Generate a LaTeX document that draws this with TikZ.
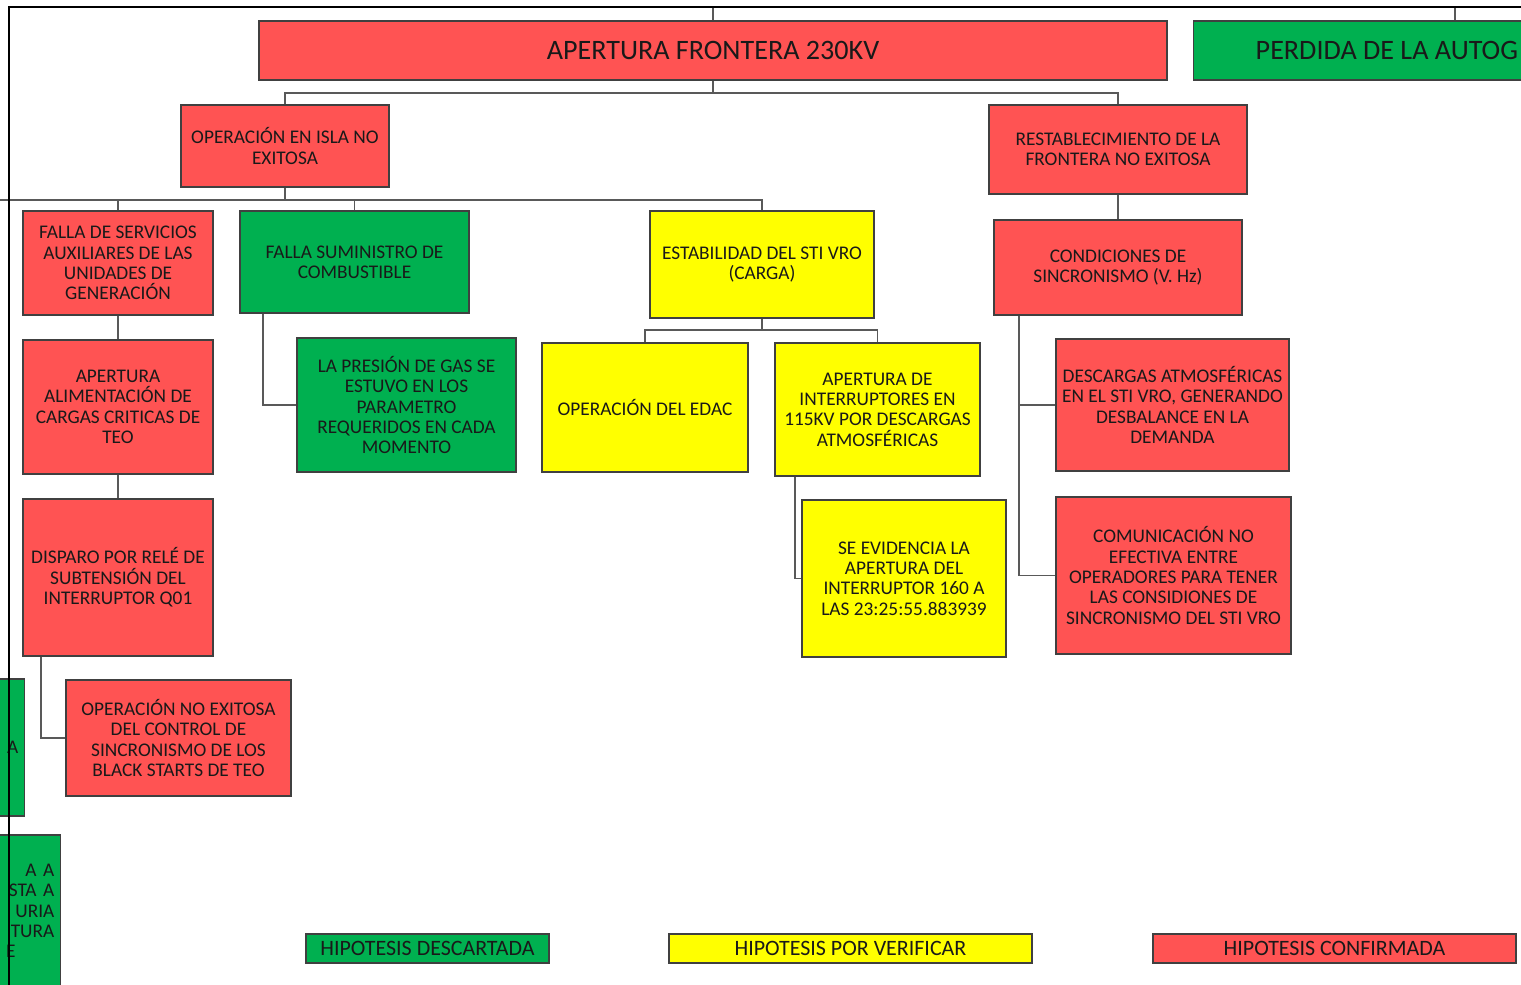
\documentclass[tikz,border=0pt]{standalone}
\usepackage{fontspec}
\setmainfont{Carlito}
\usepackage{tikz}
\usetikzlibrary{positioning}

\definecolor{hred}{RGB}{255,83,83}
\definecolor{hgreen}{RGB}{0,176,80}
\definecolor{hyellow}{RGB}{255,255,0}

\begin{document}
\begin{tikzpicture}[x=0.02cm, y=-0.02cm,
    hyp/.style={draw=black!75, line width=0.8pt, align=center, inner sep=1pt,
      text=black!90, font=\fontsize{11}{11.6}\selectfont},
    sz/.style 2 args={minimum width=#1*0.02cm, minimum height=#2*0.02cm},
    conf/.style={hyp, fill=hred},
    desc/.style={hyp, fill=hgreen},
    verif/.style={hyp, fill=hyellow},
    link/.style={draw=black!65, line width=1pt}]

    % Page (cropped screenshot)
    \useasboundingbox (0,0) rectangle (1521,984);
    \clip (0,0) rectangle (1521,984);
    \fill[white] (0,0) rectangle (1521,984);
    \coordinate (topedge) at (0,7);

    % Top level
    \node[conf, sz={908}{59}, font=\fontsize{16}{18}\selectfont] (top) at (713,50.5) {APERTURA FRONTERA 230KV};
    \node[desc, anchor=west, inner xsep=62*0.02cm, minimum height=59*0.02cm,
      font=\fontsize{16}{18}\selectfont] (autog) at (1193,50.5) {PERDIDA DE LA AUTOG};

    % Second level
    \node[conf, sz={208}{82}] (isla) at (285,146) {OPERACIÓN EN ISLA NO\\EXITOSA};
    \node[conf, sz={258}{89}] (restab) at (1118,149.5) {RESTABLECIMIENTO DE LA\\FRONTERA NO EXITOSA};

    % Third level
    \node[conf, sz={190}{104}] (fallaserv) at (118,263) {FALLA DE SERVICIOS\\AUXILIARES DE LAS\\UNIDADES DE\\GENERACIÓN};
    \node[desc, sz={229}{102}] (fallacomb) at (354.5,262) {FALLA SUMINISTRO DE\\COMBUSTIBLE};
    \node[verif, sz={224}{107}] (estab) at (762,264.5) {ESTABILIDAD DEL STI VRO\\(CARGA)};
    \node[conf, sz={248}{95}] (condic) at (1118,267.5) {CONDICIONES DE\\SINCRONISMO (V. Hz)};

    % Fourth level
    \node[conf, sz={190}{134}] (alim) at (118,407) {APERTURA\\ALIMENTACIÓN DE\\CARGAS CRITICAS DE\\TEO};
    \node[desc, sz={219}{134}] (gas) at (406.5,405) {LA PRESIÓN DE GAS SE\\ESTUVO EN LOS\\PARAMETRO\\REQUERIDOS EN CADA\\MOMENTO};
    \node[verif, sz={206}{129}] (edac) at (645,407.5) {OPERACIÓN DEL EDAC};
    \node[verif, sz={205}{133}] (interr) at (877.5,409.5) {APERTURA DE\\INTERRUPTORES EN\\115KV POR DESCARGAS\\ATMOSFÉRICAS};
    \node[conf, sz={233}{132}] (descargas) at (1172.5,405) {DESCARGAS ATMOSFÉRICAS\\EN EL STI VRO, GENERANDO\\DESBALANCE EN LA\\DEMANDA};

    % Fifth level
    \node[conf, sz={190}{157}] (disparo) at (118,577.5) {DISPARO POR RELÉ DE\\SUBTENSIÓN DEL\\INTERRUPTOR Q01};
    \node[verif, sz={204}{157}] (evid) at (904,578.5) {SE EVIDENCIA LA\\APERTURA DEL\\INTERRUPTOR 160 A\\LAS 23:25:55.883939};
    \node[conf, sz={235}{157}] (comunic) at (1173.5,575.5) {COMUNICACIÓN NO\\EFECTIVA ENTRE\\OPERADORES PARA TENER\\LAS CONSIDIONES DE\\SINCRONISMO DEL STI VRO};
    \node[conf, sz={225}{116}] (blackstart) at (178.5,738) {OPERACIÓN NO EXITOSA\\DEL CONTROL DE\\SINCRONISMO DE LOS\\BLACK STARTS DE TEO};

    % Boxes cut by the left edge
    \node[desc, anchor=east, text width=163*0.02cm, inner xsep=6*0.02cm, minimum height=137*0.02cm,
      align=right] (partA) at (25,747.5) {A};
    \node[desc, anchor=east, text width=199*0.02cm, inner xsep=6*0.02cm, minimum height=152*0.02cm,
      align=right] (partB) at (61,911) {A A\\STA A\\URIA\\TURA\\E\hspace*{22pt}};

    % Connectors
    \coordinate (bus1) at (713,93);
    \coordinate (bus2) at (285,200);
    \coordinate (bus3) at (762,330);
    \coordinate (offleft) at (-20,200);
    \draw[link] (top.north) -- (top.north |- topedge);
    \draw[link] (autog.north west) ++(262,0) -- ++(0,-14);
    \draw[link] (top.south) -- (bus1);
    \draw[link] (bus1) -| (isla.north);
    \draw[link] (bus1) -| (restab.north);
    \draw[link] (isla.south) -- (bus2);
    \draw[link] (offleft) -- (bus2) -| (estab.north);
    \foreach \n in {fallaserv,fallacomb}
      \draw[link] (\n.north) -- (\n.north |- bus2);
    \draw[link] (fallaserv) -- (alim);
    \draw[link] (alim) -- (disparo);
    \draw[link] (disparo.south west) ++(19,0) |- (blackstart.west);
    \draw[link] (fallacomb.south west) ++(24,0) |- (gas.west);
    \draw[link] (estab.south) -- (bus3);
    \draw[link] (edac.north) |- (bus3);
    \draw[link] (interr.north) |- (bus3);
    \draw[link] (interr.south west) ++(21,0) |- (evid.west);
    \draw[link] (restab) -- (condic);
    \draw[link] (condic.south west) ++(26,0) |- (descargas.west);
    \draw[link] (condic.south west) ++(26,0) |- (comunic.west);

    % Legend
    \foreach \st/\cx/\w/\txt/\nm in {desc/427.5/243/HIPOTESIS DESCARTADA/ldesc,
        verif/850.5/363/HIPOTESIS POR VERIFICAR/lverif,
        conf/1334.5/363/HIPOTESIS CONFIRMADA/lconf}
      \node[\st, sz={\w}{29}, font=\fontsize{12.5}{13}\selectfont] (\nm) at (\cx,948.5) {\txt};

    % Screenshot frame
    \draw[line width=1.2pt] (1530,7) -- (9,7) -- (9,995);
\end{tikzpicture}
\end{document}
